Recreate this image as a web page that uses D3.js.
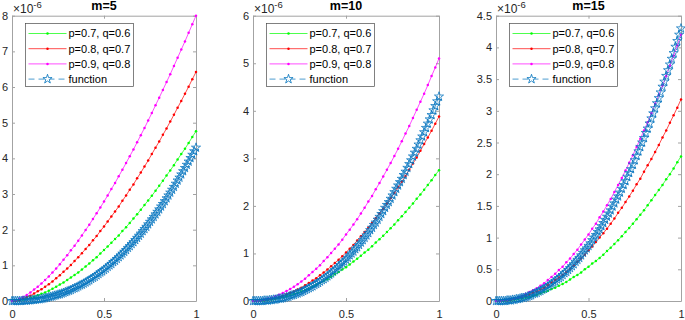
<!DOCTYPE html>
<html>
<head>
<meta charset="utf-8">
<script src="https://cdn.jsdelivr.net/npm/d3@7"></script>
<style>
  body { margin: 0; background: #fff; }
  text { font-family: "Liberation Sans", Arial, sans-serif; }
</style>
</head>
<body>
<div id="chart"></div>
<script>
// sample points on the x axis (p, q curves)
var xs = [0, 0.02, 0.04, 0.06, 0.08, 0.1, 0.12, 0.14, 0.16, 0.18, 0.2, 0.22, 0.24, 0.26, 0.28, 0.3, 0.32, 0.34, 0.36, 0.38, 0.4,
          0.42, 0.44, 0.46, 0.48, 0.5, 0.52, 0.54, 0.56, 0.58, 0.6, 0.62, 0.64, 0.66, 0.68, 0.7, 0.72, 0.74, 0.76, 0.78, 0.8,
          0.82, 0.84, 0.86, 0.88, 0.9, 0.92, 0.94, 0.96, 0.98, 1];

// sample points for the "function" curve (stars)
var funcXs = [0, 0.01, 0.02, 0.03, 0.04, 0.05, 0.06, 0.07, 0.08, 0.09, 0.1, 0.11, 0.12, 0.13, 0.14, 0.15, 0.16, 0.17, 0.18, 0.19,
              0.2, 0.21, 0.22, 0.23, 0.24, 0.25, 0.26, 0.27, 0.28, 0.29, 0.3, 0.31, 0.32, 0.33, 0.34, 0.35, 0.36, 0.37, 0.38, 0.39,
              0.4, 0.41, 0.42, 0.43, 0.44, 0.45, 0.46, 0.47, 0.48, 0.49, 0.5, 0.51, 0.52, 0.53, 0.54, 0.55, 0.56, 0.57, 0.58, 0.59,
              0.6, 0.61, 0.62, 0.63, 0.64, 0.65, 0.66, 0.67, 0.68, 0.69, 0.7, 0.71, 0.72, 0.73, 0.74, 0.75, 0.76, 0.77, 0.78, 0.79,
              0.8, 0.81, 0.82, 0.83, 0.84, 0.85, 0.86, 0.87, 0.88, 0.89, 0.9, 0.91, 0.92, 0.93, 0.94, 0.95, 0.96, 0.97, 0.98, 0.99, 1];

// values in units of 1e-6
var funcVals = [0, 0, 0, 0, 0, 0, 0.01, 0.01, 0.01, 0.02, 0.02, 0.03, 0.03, 0.04, 0.05, 0.05, 0.06, 0.07, 0.08, 0.09,
                0.11, 0.12, 0.13, 0.15, 0.16, 0.18, 0.19, 0.21, 0.23, 0.25, 0.27, 0.29, 0.31, 0.34, 0.36, 0.38, 0.41, 0.44, 0.46, 0.49,
                0.52, 0.55, 0.58, 0.62, 0.65, 0.68, 0.72, 0.76, 0.80, 0.83, 0.87, 0.91, 0.96, 1.00, 1.04, 1.09, 1.13, 1.18, 1.23, 1.28,
                1.33, 1.38, 1.43, 1.49, 1.54, 1.60, 1.65, 1.71, 1.77, 1.83, 1.89, 1.96, 2.02, 2.08, 2.15, 2.22, 2.29, 2.36, 2.43, 2.50,
                2.57, 2.65, 2.72, 2.80, 2.88, 2.96, 3.04, 3.12, 3.20, 3.29, 3.38, 3.46, 3.55, 3.64, 3.73, 3.82, 3.91, 4.01, 4.10, 4.20, 4.30];

// m=5
var m5Green = [0, 0.01, 0.02, 0.04, 0.06, 0.09, 0.12, 0.16, 0.20, 0.24, 0.29, 0.34, 0.40, 0.46, 0.52, 0.59, 0.66, 0.73, 0.80, 0.88, 0.97,
               1.05, 1.14, 1.23, 1.33, 1.43, 1.53, 1.63, 1.74, 1.84, 1.96, 2.07, 2.19, 2.31, 2.43, 2.56, 2.69, 2.82, 2.95, 3.09, 3.23,
               3.37, 3.52, 3.66, 3.81, 3.97, 4.12, 4.27, 4.43, 4.60, 4.76];
var m5Red = [0, 0.01, 0.03, 0.07, 0.11, 0.15, 0.21, 0.27, 0.33, 0.40, 0.47, 0.55, 0.64, 0.72, 0.82, 0.91, 1.01, 1.12, 1.23, 1.34, 1.46,
             1.57, 1.70, 1.82, 1.96, 2.09, 2.23, 2.37, 2.51, 2.65, 2.81, 2.96, 3.12, 3.27, 3.44, 3.60, 3.77, 3.94, 4.12, 4.30, 4.47,
             4.66, 4.84, 5.03, 5.22, 5.42, 5.61, 5.81, 6.01, 6.22, 6.42];
var m5Magenta = [0, 0.02, 0.06, 0.11, 0.17, 0.24, 0.32, 0.40, 0.49, 0.59, 0.69, 0.80, 0.91, 1.03, 1.16, 1.28, 1.42, 1.55, 1.69, 1.84, 1.99,
                 2.14, 2.30, 2.46, 2.62, 2.79, 2.96, 3.14, 3.31, 3.50, 3.68, 3.87, 4.06, 4.25, 4.45, 4.65, 4.85, 5.06, 5.27, 5.49, 5.70,
                 5.92, 6.14, 6.36, 6.59, 6.82, 7.05, 7.28, 7.52, 7.76, 8.00];

// m=10
var m10Green = [0, 0, 0.01, 0.01, 0.02, 0.03, 0.04, 0.06, 0.08, 0.10, 0.12, 0.14, 0.17, 0.20, 0.23, 0.26, 0.30, 0.34, 0.38, 0.42, 0.46,
                0.51, 0.56, 0.61, 0.66, 0.71, 0.77, 0.83, 0.89, 0.95, 1.02, 1.08, 1.15, 1.23, 1.30, 1.37, 1.45, 1.53, 1.61, 1.70, 1.78,
                1.87, 1.96, 2.05, 2.15, 2.24, 2.34, 2.44, 2.54, 2.65, 2.75];
var m10Red = [0, 0, 0.01, 0.02, 0.03, 0.04, 0.06, 0.08, 0.11, 0.14, 0.17, 0.20, 0.24, 0.28, 0.33, 0.38, 0.43, 0.48, 0.54, 0.60, 0.66,
              0.73, 0.80, 0.87, 0.94, 1.02, 1.10, 1.18, 1.27, 1.36, 1.45, 1.54, 1.64, 1.74, 1.84, 1.94, 2.05, 2.16, 2.27, 2.39, 2.51,
              2.63, 2.76, 2.89, 3.02, 3.16, 3.30, 3.44, 3.58, 3.73, 3.88];
var m10Magenta = [0, 0, 0.01, 0.03, 0.05, 0.07, 0.10, 0.13, 0.17, 0.21, 0.25, 0.30, 0.35, 0.41, 0.47, 0.54, 0.61, 0.68, 0.75, 0.84, 0.92,
                  1.01, 1.10, 1.19, 1.29, 1.40, 1.50, 1.61, 1.72, 1.84, 1.96, 2.09, 2.21, 2.35, 2.48, 2.62, 2.76, 2.90, 3.05, 3.20, 3.36,
                  3.52, 3.68, 3.85, 4.02, 4.19, 4.36, 4.54, 4.73, 4.91, 5.10];

// m=15
var m15Green = [0, 0, 0, 0.01, 0.01, 0.02, 0.03, 0.04, 0.05, 0.06, 0.08, 0.10, 0.12, 0.14, 0.16, 0.19, 0.21, 0.24, 0.27, 0.30, 0.34,
                0.38, 0.41, 0.45, 0.50, 0.54, 0.59, 0.63, 0.68, 0.73, 0.79, 0.84, 0.90, 0.96, 1.02, 1.09, 1.15, 1.22, 1.29, 1.36, 1.43,
                1.51, 1.59, 1.67, 1.75, 1.83, 1.92, 2.00, 2.09, 2.19, 2.28];
var m15Red = [0, 0, 0.01, 0.01, 0.02, 0.03, 0.05, 0.06, 0.08, 0.10, 0.13, 0.15, 0.18, 0.21, 0.25, 0.29, 0.33, 0.37, 0.41, 0.46, 0.51,
              0.56, 0.62, 0.67, 0.73, 0.80, 0.86, 0.93, 1.00, 1.07, 1.14, 1.22, 1.30, 1.39, 1.47, 1.56, 1.65, 1.74, 1.84, 1.93, 2.04,
              2.14, 2.24, 2.35, 2.46, 2.58, 2.69, 2.81, 2.93, 3.05, 3.18];
var m15Magenta = [0, 0, 0.01, 0.02, 0.03, 0.04, 0.06, 0.08, 0.11, 0.14, 0.17, 0.20, 0.24, 0.28, 0.33, 0.38, 0.43, 0.49, 0.54, 0.61, 0.67,
                  0.74, 0.81, 0.89, 0.97, 1.05, 1.14, 1.22, 1.32, 1.41, 1.51, 1.61, 1.72, 1.83, 1.94, 2.06, 2.18, 2.30, 2.43, 2.56, 2.69,
                  2.82, 2.96, 3.11, 3.25, 3.40, 3.55, 3.71, 3.87, 4.03, 4.20];

var titles = ["m=5", "m=10", "m=15"];
var yMaxes = [8, 6, 4.5];
var yTickVals = [[0, 1, 2, 3, 4, 5, 6, 7, 8],
                 [0, 1, 2, 3, 4, 5, 6],
                 [0, 0.5, 1, 1.5, 2, 2.5, 3, 3.5, 4, 4.5]];
var xTickVals = [0, 0.5, 1];
var seriesNames = ["p=0.7, q=0.6", "p=0.8, q=0.7", "p=0.9, q=0.8", "function"];
var seriesColors = ["#00ff00", "#ff0000", "#ff00ff"];
var starColor = "#0072bd";

var panelSeries = [
    [m5Green, m5Red, m5Magenta],
    [m10Green, m10Red, m10Magenta],
    [m15Green, m15Red, m15Magenta]
];

// layout
var plotTop = 15.7, plotBottom = 301;
var panelX = [[12, 196], [253, 439], [496, 681]];
var axisColor = "#a3a3a3", textColor = "#262626";

var svg = d3.select("#chart")
    .append("svg")
    .attr("width", 685)
    .attr("height", 320);

var star = d3.symbol().type(d3.symbolStar).size(26);

panelSeries.forEach(function (series, i) {
    var g = svg.append("g");

    var x = d3.scaleLinear().domain([0, 1]).range(panelX[i]);
    var y = d3.scaleLinear().domain([0, yMaxes[i]]).range([plotBottom, plotTop]);

    //////////
    // AXIS //
    //////////
    function styleAxis(sel) {
        sel.attr("font-size", 11).attr("font-family", "'Liberation Sans', Arial, sans-serif");
        sel.select(".domain").attr("stroke", axisColor);
        sel.selectAll(".tick line").attr("stroke", axisColor);
        sel.selectAll(".tick text").attr("fill", textColor);
    }

    g.append("g")
        .attr("transform", "translate(0," + plotBottom + ")")
        .call(d3.axisBottom(x).tickValues(xTickVals).tickSizeInner(-3).tickSizeOuter(0)
            .tickPadding(9).tickFormat(d3.format("~g")))
        .call(styleAxis);
    g.append("g")
        .attr("transform", "translate(0," + plotTop + ")")
        .call(d3.axisTop(x).tickValues(xTickVals).tickSizeInner(-3).tickSizeOuter(0).tickFormat(""))
        .call(styleAxis);
    g.append("g")
        .attr("transform", "translate(" + panelX[i][0] + ",0)")
        .call(d3.axisLeft(y).tickValues(yTickVals[i]).tickSizeInner(-3).tickSizeOuter(0)
            .tickPadding(4).tickFormat(d3.format("~g")))
        .call(styleAxis);
    g.append("g")
        .attr("transform", "translate(" + panelX[i][1] + ",0)")
        .call(d3.axisRight(y).tickValues(yTickVals[i]).tickSizeInner(-3).tickSizeOuter(0).tickFormat(""))
        .call(styleAxis);

    ////////////
    // SERIES //
    ////////////
    var line = d3.line()
        .x(function (d, j) { return x(xs[j]); })
        .y(function (d) { return y(d); });
    var funcLine = d3.line()
        .x(function (d, j) { return x(funcXs[j]); })
        .y(function (d) { return y(d); });

    series.forEach(function (vals, k) {
        g.append("path")
            .attr("d", line(vals))
            .attr("fill", "none")
            .attr("stroke", seriesColors[k])
            .attr("stroke-width", 0.7);
        g.selectAll(".dot" + k)
            .data(vals)
            .enter()
            .append("circle")
            .attr("cx", function (d, j) { return x(xs[j]); })
            .attr("cy", function (d) { return y(d); })
            .attr("r", 1.25)
            .attr("fill", seriesColors[k]);
    });

    g.append("path")
        .attr("d", funcLine(funcVals))
        .attr("fill", "none")
        .attr("stroke", starColor)
        .attr("stroke-width", 0.7)
        .attr("stroke-dasharray", "4,2");
    g.selectAll(".star")
        .data(funcVals)
        .enter()
        .append("path")
        .attr("d", star)
        .attr("transform", function (d, j) { return "translate(" + x(funcXs[j]) + "," + y(d) + ")"; })
        .attr("fill", "none")
        .attr("stroke", starColor)
        .attr("stroke-width", 0.75);

    ////////////
    // LABELS //
    ////////////
    g.append("text")
        .attr("x", (panelX[i][0] + panelX[i][1]) / 2)
        .attr("y", 10)
        .attr("text-anchor", "middle")
        .attr("font-size", 12.5)
        .attr("font-weight", "bold")
        .attr("fill", "#000")
        .text(titles[i]);

    var expo = g.append("text")
        .attr("x", panelX[i][0] + 1)
        .attr("y", 13)
        .attr("font-size", 12)
        .attr("fill", textColor);
    expo.append("tspan").text("\u00d710");
    expo.append("tspan").attr("dy", -5.5).attr("font-size", 9.5).text("-6");

    ////////////
    // LEGEND //
    ////////////
    var bx = panelX[i][0] + 13.5, by = 23.5;
    g.append("rect")
        .attr("x", bx).attr("y", by)
        .attr("width", 108).attr("height", 63)
        .attr("fill", "#fff")
        .attr("stroke", "#4a4a4a")
        .attr("stroke-width", 0.7);

    seriesNames.forEach(function (name, k) {
        var ry = by + 10 + k * 15.2;
        var c = k < 3 ? seriesColors[k] : starColor;
        g.append("line")
            .attr("x1", bx + 3).attr("x2", bx + 41)
            .attr("y1", ry).attr("y2", ry)
            .attr("stroke", c)
            .attr("stroke-width", 0.7)
            .attr("stroke-dasharray", k < 3 ? null : "6,4");
        if (k < 3) {
            g.append("circle").attr("cx", bx + 22).attr("cy", ry).attr("r", 1.25).attr("fill", c);
        } else {
            g.append("path").attr("d", star)
                .attr("transform", "translate(" + (bx + 22) + "," + ry + ")")
                .attr("fill", "#fff").attr("stroke", c).attr("stroke-width", 0.8);
        }
        g.append("text")
            .attr("x", bx + 43).attr("y", ry)
            .attr("dy", "0.35em")
            .attr("font-size", 11)
            .attr("fill", "#000")
            .text(name);
    });
});
</script>
</body>
</html>
